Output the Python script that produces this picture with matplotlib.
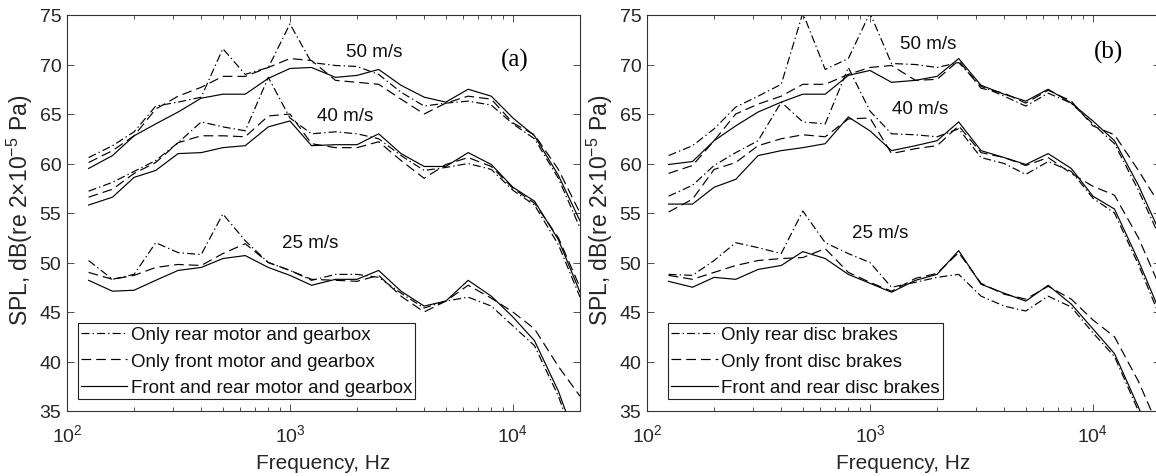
import matplotlib
matplotlib.use("Agg")
import matplotlib.pyplot as plt
from matplotlib.ticker import LogLocator, NullFormatter, MultipleLocator

# one-third octave band centre frequencies, Hz
freq = [125, 160, 200, 250, 315, 400, 500, 630, 800, 1000, 1250, 1600,
        2000, 2500, 3150, 4000, 5000, 6300, 8000, 10000, 12500, 16000, 20000]

# panel (a): motor and gearbox
a50_rear = [60.6, 61.8, 63.2, 65.8, 66.2, 66.7, 71.6, 69.0, 69.7, 74.1, 70.2, 69.9,
            69.8, 69.0, 67.2, 65.8, 66.1, 66.3, 65.9, 64.0, 62.5, 58.5, 53.5]
a50_front = [60.1, 61.3, 62.8, 65.5, 66.8, 67.7, 68.8, 68.8, 69.7, 70.6, 70.4, 68.4,
             68.2, 68.0, 66.5, 65.0, 66.1, 66.8, 66.5, 64.1, 62.9, 59.4, 55.0]
a50_both = [59.5, 60.8, 62.8, 64.0, 65.2, 66.6, 67.0, 67.0, 68.6, 69.6, 69.7, 68.7,
            68.9, 69.5, 67.9, 66.7, 66.2, 67.5, 66.8, 64.6, 62.8, 58.8, 54.2]

a40_rear = [57.2, 58.1, 59.2, 60.3, 62.1, 64.2, 63.7, 63.3, 68.7, 64.6, 63.0, 63.2,
            63.0, 62.5, 60.8, 59.3, 59.6, 60.0, 59.4, 57.3, 55.8, 51.8, 46.5]
a40_front = [56.6, 57.4, 59.0, 60.1, 62.1, 62.8, 62.8, 62.7, 64.8, 65.0, 62.0, 61.6,
             61.6, 62.2, 60.3, 58.5, 59.9, 60.6, 59.7, 57.5, 56.0, 52.5, 47.5]
a40_both = [55.8, 56.6, 58.6, 59.3, 61.0, 61.1, 61.6, 61.8, 63.7, 64.3, 61.8, 61.9,
            61.9, 63.0, 61.0, 59.7, 59.7, 61.1, 59.9, 57.6, 56.2, 52.3, 47.0]

a25_rear = [50.2, 48.3, 48.8, 52.0, 51.0, 50.8, 54.9, 52.2, 50.0, 49.2, 48.2, 48.8,
            48.8, 48.5, 46.9, 45.4, 46.1, 46.5, 45.6, 43.6, 41.6, 36.5, 30.5]
a25_front = [49.0, 48.3, 48.7, 49.5, 49.8, 49.7, 50.9, 51.9, 50.0, 49.2, 48.3, 48.2,
             48.1, 48.7, 46.6, 45.0, 46.1, 47.7, 46.4, 45.0, 43.3, 39.5, 36.5]
a25_both = [48.2, 47.1, 47.2, 48.2, 49.2, 49.5, 50.4, 50.7, 49.5, 48.7, 47.7, 48.3,
            48.3, 49.2, 47.1, 45.6, 46.1, 48.2, 46.6, 44.5, 42.1, 37.0, 31.0]

# panel (b): disc brakes
b50_rear = [60.8, 61.8, 63.5, 65.7, 66.8, 68.0, 75.2, 69.5, 70.6, 75.2, 70.1, 70.0,
            69.7, 70.2, 67.8, 66.8, 65.8, 67.1, 66.1, 64.0, 62.0, 57.3, 52.5]
b50_front = [59.0, 59.8, 62.3, 65.0, 66.0, 66.8, 68.0, 68.0, 69.0, 69.7, 69.9, 68.4,
             68.5, 70.4, 67.6, 67.1, 66.1, 67.4, 66.3, 63.8, 62.9, 59.3, 55.8]
b50_both = [59.9, 60.2, 62.3, 63.8, 65.2, 66.2, 67.0, 67.0, 68.9, 69.4, 68.2, 68.4,
            68.8, 70.6, 67.9, 67.0, 66.3, 67.5, 66.1, 64.3, 62.3, 57.8, 53.0]

b40_rear = [56.7, 57.8, 59.8, 61.1, 62.3, 66.2, 64.2, 64.0, 69.7, 65.3, 63.0, 62.9,
            62.7, 63.5, 60.6, 60.0, 58.9, 60.2, 59.2, 56.5, 55.0, 49.8, 44.5]
b40_front = [55.1, 56.4, 59.4, 60.1, 61.8, 62.5, 62.9, 62.7, 64.5, 64.6, 61.0, 61.5,
             61.8, 63.8, 61.1, 60.6, 59.8, 60.6, 59.0, 57.7, 56.8, 52.5, 47.5]
b40_both = [55.9, 55.9, 57.6, 58.4, 60.8, 61.3, 61.6, 62.0, 64.7, 63.3, 61.3, 61.8,
            62.3, 64.2, 61.3, 60.6, 59.9, 61.0, 59.5, 56.7, 55.4, 50.2, 45.0]

b25_rear = [48.8, 48.7, 50.2, 52.0, 51.5, 50.9, 55.2, 52.0, 50.9, 50.0, 47.5, 48.0,
            48.5, 48.8, 46.6, 45.6, 45.1, 46.6, 45.5, 42.9, 40.5, 35.0, 29.5]
b25_front = [48.7, 48.3, 49.0, 49.7, 50.2, 50.4, 50.5, 51.4, 49.0, 48.0, 47.1, 48.4,
             48.9, 51.0, 47.9, 46.8, 46.3, 47.6, 46.3, 44.2, 42.5, 38.0, 33.0]
b25_both = [48.1, 47.5, 48.5, 48.3, 49.3, 49.7, 51.1, 50.4, 48.8, 47.9, 47.0, 48.2,
            48.8, 51.2, 47.8, 46.9, 46.1, 47.7, 45.8, 43.3, 40.8, 35.4, 30.0]

labels_a = ["Only rear motor and gearbox", "Only front motor and gearbox",
            "Front and rear motor and gearbox"]
labels_b = ["Only rear disc brakes", "Only front disc brakes",
            "Front and rear disc brakes"]

plt.rcParams['font.family'] = ['Liberation Sans', 'DejaVu Sans']
plt.rcParams['mathtext.fontset'] = 'custom'
plt.rcParams['mathtext.rm'] = 'Liberation Sans'
plt.rcParams['mathtext.it'] = 'Liberation Sans:italic'
plt.rcParams['lines.scale_dashes'] = False

AX_COL = '#333333'
TXT_COL = '#262626'
DASHDOT = (0, (5.8, 2.2, 1.0, 2.2))
DASHED = (0, (7.0, 3.6))


def draw_panel(ax, groups, labels, tag, text_pos):
    for rear, front, both in groups:
        l1, = ax.plot(freq, rear, color='k', lw=0.85, linestyle=DASHDOT)
        l2, = ax.plot(freq, front, color='k', lw=0.85, linestyle=DASHED)
        l3, = ax.plot(freq, both, color='k', lw=0.85, linestyle='-')

    ax.set_xscale('log')
    ax.set_xlim(100, 20000)
    ax.set_ylim(35, 75)
    ax.yaxis.set_major_locator(MultipleLocator(5))
    ax.xaxis.set_major_locator(LogLocator(base=10))
    ax.xaxis.set_minor_locator(LogLocator(base=10, subs=range(2, 10)))
    ax.xaxis.set_minor_formatter(NullFormatter())

    ax.tick_params(which='both', direction='in', top=True, right=True,
                   colors=AX_COL, labelcolor=TXT_COL, width=0.6)
    ax.tick_params(which='major', length=5, labelsize=14)
    ax.tick_params(which='minor', length=3)
    ax.tick_params(axis='x', which='major', pad=9)
    ax.tick_params(axis='y', which='major', pad=4)
    for s in ax.spines.values():
        s.set_color(AX_COL)
        s.set_linewidth(0.8)

    ax.set_xlabel("Frequency, Hz", fontsize=15, color=TXT_COL)
    ax.xaxis.set_label_coords(0.5, -0.105)
    ax.set_ylabel(r"SPL, dB(re 2$\times$10$^{-5}$ Pa)", fontsize=16.5, color=TXT_COL)
    ax.yaxis.set_label_coords(-0.062, 0.51)

    leg = ax.legend([l1, l2, l3], labels, loc='lower left',
                    bbox_to_anchor=text_pos['legend'], borderaxespad=0,
                    fontsize=13.5, frameon=True, fancybox=False,
                    handlelength=2.5, handletextpad=0.2, labelspacing=0.5,
                    borderpad=0.15, framealpha=1)
    leg.get_frame().set_edgecolor('#222222')
    leg.get_frame().set_linewidth(0.8)
    for t in leg.get_texts():
        t.set_color('#111111')

    for txt, pos in zip(["50 m/s", "40 m/s", "25 m/s"], text_pos['speeds']):
        ax.text(pos[0], pos[1], txt, transform=ax.transAxes, fontsize=13.5,
                ha='center', va='center', color='#111111')
    ax.text(text_pos['tag'][0], text_pos['tag'][1], tag, transform=ax.transAxes,
            fontsize=18, ha='center', va='center', family='Liberation Serif')


def main():
    fig = plt.figure(figsize=(11.56, 4.77), dpi=100)
    ax_a = fig.add_axes([67 / 1156, 65 / 477, 513 / 1156, 396 / 477])
    ax_b = fig.add_axes([647 / 1156, 65 / 477, 513 / 1156, 396 / 477])

    pos_a = {'legend': (0.021, 0.03),
             'speeds': [(0.598, 0.909), (0.542, 0.745), (0.474, 0.425)],
             'tag': (0.873, 0.889)}
    pos_b = {'legend': (0.041, 0.03),
             'speeds': [(0.548, 0.927), (0.532, 0.763), (0.454, 0.452)],
             'tag': (0.899, 0.907)}

    draw_panel(ax_a, [(a50_rear, a50_front, a50_both),
                      (a40_rear, a40_front, a40_both),
                      (a25_rear, a25_front, a25_both)], labels_a, "(a)", pos_a)
    draw_panel(ax_b, [(b50_rear, b50_front, b50_both),
                      (b40_rear, b40_front, b40_both),
                      (b25_rear, b25_front, b25_both)], labels_b, "(b)", pos_b)

    fig.savefig("out.png", dpi=100)


if __name__ == "__main__":
    main()
